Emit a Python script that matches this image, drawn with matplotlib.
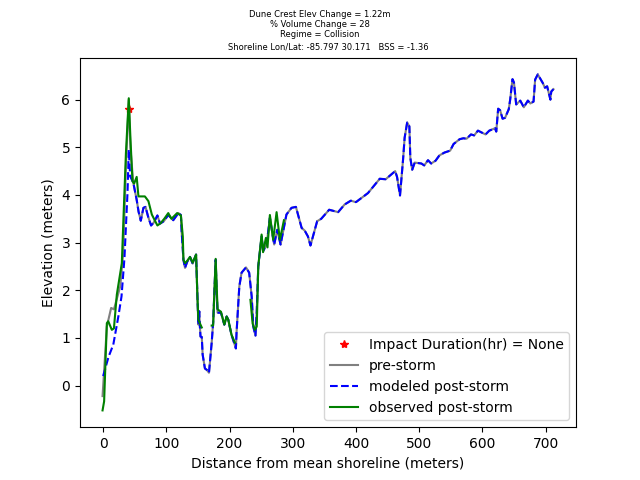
# -*- coding: utf-8 -*-
import matplotlib
matplotlib.use('Agg')
from matplotlib import pyplot as plt

nan = float('nan')

# part of the profile shared by pre-storm and modeled post-storm
shared_x = [47.6, 53, 56, 59.5, 63.7, 67, 71, 75.8, 80, 85.8, 90, 96, 103, 110.8, 119, 123, 124, 127, 129.5,
            133, 137.4, 141.6, 147, 149.6, 150.6, 152, 153, 154, 156, 157.4, 161, 164, 167.4, 171.7, 174,
            178, 179.5, 181, 186.4, 191.7, 195.4, 198, 203, 210, 211, 215.4, 219, 226, 231, 235, 237.5,
            241, 243, 245.4, 250.7, 253, 258.6, 263.8, 270.6, 275.4, 280.7, 290, 298, 305, 314, 319,
            324, 328, 338.6, 345, 357.6, 371.8, 382, 391.8, 400, 419, 427, 437.6, 447, 462, 465, 469.7,
            474.5, 477, 481, 484.5, 486, 489, 493, 503.5, 508, 514, 519, 526, 532, 540, 549, 554.5,
            564, 570, 575, 582, 587, 593, 605, 611, 620, 622, 625, 628, 632, 636, 641.8, 644, 647.7,
            650, 653.5, 660, 665.6, 672, 676, 681, 683.5, 687.7, 695.6, 699, 702.5, 707.7, 709, 712.5]
shared_y = [4.26, 3.9, 3.65, 3.46, 3.73, 3.75, 3.55, 3.36, 3.42, 3.57, 3.4, 3.45, 3.58, 3.47, 3.62, 3.58, 3.27,
            2.64, 2.47, 2.6, 2.7, 2.56, 2.75, 1.73, 1.28, 1.56, 1.25, 1.03, 1.02, 0.65, 0.36, 0.33, 0.27,
            0.9, 1.32, 2.64, 2.0, 1.53, 1.53, 1.28, 1.45, 1.38, 1.07, 0.78, 1.1, 2.08, 2.37, 2.48, 2.37,
            1.87, 1.24, 1.05, 1.55, 2.5, 3.13, 2.82, 2.96, 3.52, 2.96, 3.27, 2.96, 3.59, 3.73, 3.75, 3.31,
            3.25, 3.13, 2.94, 3.45, 3.5, 3.69, 3.64, 3.8, 3.88, 3.85, 4.04, 4.17, 4.34, 4.33, 4.5, 4.38,
            3.99, 4.74, 5.2, 5.52, 5.44, 4.78, 4.53, 4.68, 4.66, 4.62, 4.73, 4.66, 4.72, 4.83, 4.89, 4.93,
            5.07, 5.17, 5.19, 5.18, 5.27, 5.25, 5.35, 5.27, 5.35, 5.4, 5.33, 5.81, 5.78, 5.6, 5.62, 5.8,
            6.0, 6.43, 6.36, 5.9, 5.98, 5.84, 5.98, 5.92, 5.96, 6.42, 6.53, 6.35, 6.25, 6.28, 6.0, 6.17, 6.22]

pre_front_x = [-1, 5.8, 12.6, 17, 27, 31.6, 36, 40.5, 43]
pre_front_y = [-0.22, 1.24, 1.63, 1.6, 2.08, 2.77, 4.6, 6.0, 5.0]

model_front_x = [0, 8.4, 16, 24, 29, 33.7, 36, 38.5, 40.5, 42.7]
model_front_y = [0.2, 0.6, 0.86, 1.45, 1.87, 2.68, 3.34, 4.05, 4.95, 4.39]

obs_x = [-1, 1.5, 5.8, 8, 13.7, 17, 21.6, 29.5, 32, 36, 40.5, 43, 46.3, 49, 53, 55.8, 66, 71.6, 77, 85.8, 91,
         96.6, 103, 108, 117, 123, 126, 127, 129.5, 133, 137.4, 141.6, 147, 149, 150.6, 156, nan,
         171.7, 174, 178, 181, 186.4, 191.7, 195.4, 198, 203, 208.5, nan,
         233, 236.5, 240, 243, 245.4, 250.7, 253, 257.5, 260, 263.8, 269, 274.4, 279.6, 286]
obs_y = [-0.52, -0.33, 1.31, 1.35, 1.17, 1.2, 1.91, 2.57, 3.48, 4.88, 6.03, 5.23, 4.29, 4.24, 4.38, 3.97, 3.97,
         3.87, 3.59, 3.36, 3.41, 3.5, 3.62, 3.5, 3.62, 3.57, 3.13, 2.64, 2.57, 2.62, 2.7, 2.58, 2.75, 1.9,
         1.38, 1.22, nan, 1.26, 1.26, 2.66, 1.6, 1.55, 1.28, 1.45, 1.38, 1.07, 0.9, nan,
         1.8, 1.3, 1.17, 1.24, 2.5, 3.17, 2.8, 3.1, 2.9, 3.58, 3.06, 3.64, 3.06, 3.47]

impact_x = [41]
impact_y = [5.8]

suptitle_lines = ['Dune Crest Elev Change = 1.22m', '% Volume Change = 28', 'Regime = Collision']
title_line = 'Shoreline Lon/Lat: -85.797 30.171   BSS = -1.36'

fig, ax = plt.subplots(figsize=(6.4, 4.8), dpi=100)
ax.plot(impact_x, impact_y, 'r*', label='Impact Duration(hr) = None')
ax.plot(pre_front_x + shared_x, pre_front_y + shared_y, color='gray', label='pre-storm')
ax.plot(model_front_x + shared_x, model_front_y + shared_y, 'b--', label='modeled post-storm')
ax.plot(obs_x, obs_y, 'g', label='observed post-storm')

ax.set_xlabel('Distance from mean shoreline (meters)')
ax.set_ylabel('Elevation (meters)')
ax.set_title(title_line, fontsize=6)
fig.suptitle('\n'.join(suptitle_lines), fontsize=6)
ax.legend(loc='lower right')

fig.savefig('out.png')
